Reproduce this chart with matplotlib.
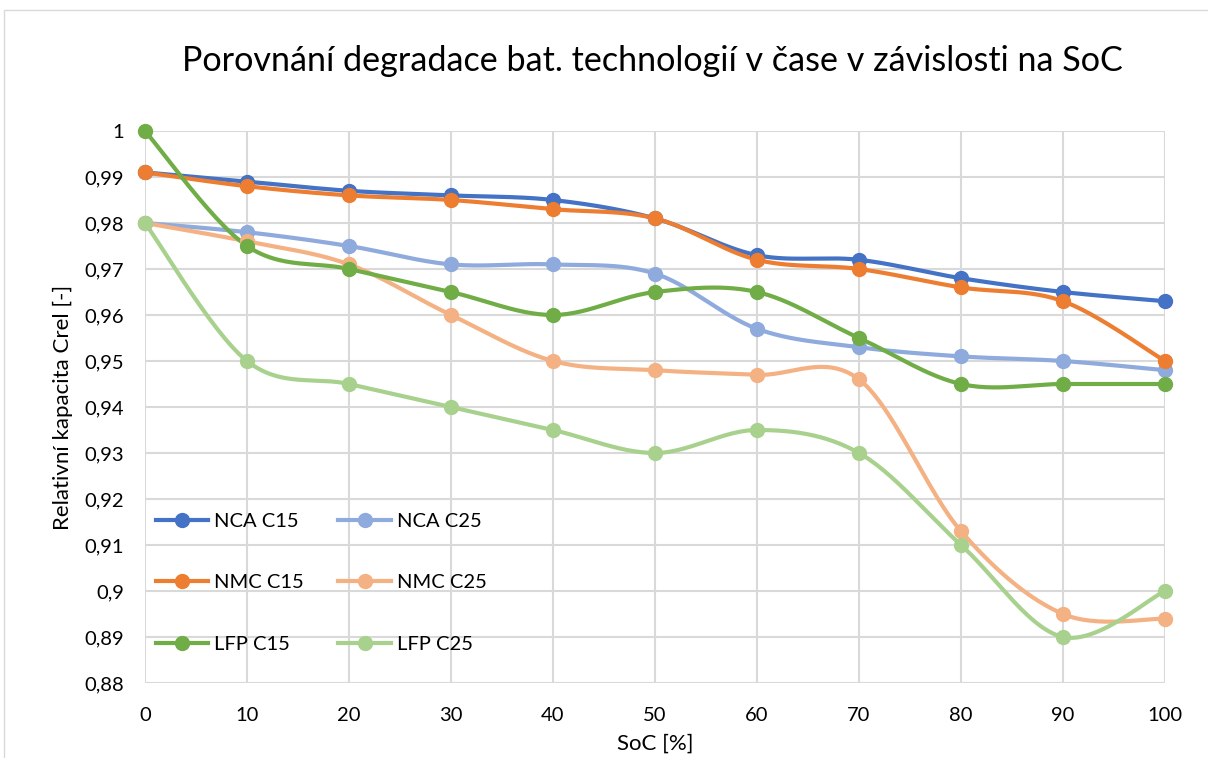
import matplotlib.pyplot as plt
import numpy as np
from matplotlib.patches import Rectangle

plt.rcParams['font.family'] = ['Lato', 'DejaVu Sans']

soc = [0, 10, 20, 30, 40, 50, 60, 70, 80, 90, 100]
nca_c15 = [0.991, 0.989, 0.987, 0.986, 0.985, 0.981, 0.973, 0.972, 0.968, 0.965, 0.963]
nca_c25 = [0.980, 0.978, 0.975, 0.971, 0.971, 0.969, 0.957, 0.953, 0.951, 0.950, 0.948]
nmc_c15 = [0.991, 0.988, 0.986, 0.985, 0.983, 0.981, 0.972, 0.970, 0.966, 0.963, 0.950]
nmc_c25 = [0.980, 0.976, 0.971, 0.960, 0.950, 0.948, 0.947, 0.946, 0.913, 0.895, 0.894]
lfp_c15 = [1.000, 0.975, 0.970, 0.965, 0.960, 0.965, 0.965, 0.955, 0.945, 0.945, 0.945]
lfp_c25 = [0.980, 0.950, 0.945, 0.940, 0.935, 0.930, 0.935, 0.930, 0.910, 0.890, 0.900]

series = [
    ("NCA C15", nca_c15, "#4472C4"),
    ("NCA C25", nca_c25, "#8FAADC"),
    ("NMC C15", nmc_c15, "#ED7D31"),
    ("NMC C25", nmc_c25, "#F4B183"),
    ("LFP C15", lfp_c15, "#70AD47"),
    ("LFP C25", lfp_c25, "#A9D18E"),
]


def smooth(x, y, n=30):
    # Excel-like smoothed line: cubic bezier segments with Catmull-Rom handles
    x = np.asarray(x, float)
    y = np.asarray(y, float)
    px = np.concatenate([[x[0]], x, [x[-1]]])
    py = np.concatenate([[y[0]], y, [y[-1]]])
    t = np.linspace(0, 1, n)
    xs, ys = [], []
    for i in range(len(x) - 1):
        p0 = np.array([px[i], py[i]])
        p1 = np.array([px[i + 1], py[i + 1]])
        p2 = np.array([px[i + 2], py[i + 2]])
        p3 = np.array([px[i + 3], py[i + 3]])
        c1 = p1 + (p2 - p0) / 6
        c2 = p2 - (p3 - p1) / 6
        b = ((1 - t) ** 3)[:, None] * p1 + (3 * (1 - t) ** 2 * t)[:, None] * c1 \
            + (3 * (1 - t) * t ** 2)[:, None] * c2 + (t ** 3)[:, None] * p2
        xs.append(b[:, 0])
        ys.append(b[:, 1])
    return np.concatenate(xs), np.concatenate(ys)


fig = plt.figure(figsize=(12.08, 7.58), dpi=100)
ax = fig.add_axes([145 / 1208, 1 - 683 / 758, 1020 / 1208, 552 / 758])

fig.patches.append(Rectangle((4 / 1208, -0.1), 1.2, (758 - 10) / 758 + 0.1,
                             transform=fig.transFigure, fill=False,
                             edgecolor="#d9d9d9", linewidth=1))

handles = {}
for name, vals, col in series:
    sx, sy = smooth(soc, vals)
    ax.plot(sx, sy, color=col, lw=3, solid_capstyle="round", zorder=3, clip_on=False)
    ax.plot(soc, vals, "o", color=col, ms=10, zorder=4, clip_on=False)
    h, = ax.plot([], [], "-o", color=col, lw=3, ms=10)
    handles[name] = h

ax.set_xlim(0, 100)
ax.set_ylim(0.88, 1.0)
ax.set_xticks(soc)
yt = np.round(np.arange(0.88, 1.0001, 0.01), 2)
ax.set_yticks(yt)
ax.set_yticklabels([("%g" % v).replace(".", ",") for v in yt])
ax.tick_params(length=0, labelsize=14.5)
ax.tick_params(axis="y", pad=15)
ax.tick_params(axis="x", pad=17)
ax.grid(True, color="#d9d9d9", lw=1.5)
ax.set_axisbelow(True)
for s in ax.spines.values():
    s.set_visible(False)

ax.set_xlabel("SoC [%]", fontsize=16, labelpad=7)
ax.set_ylabel("Relativní kapacita Crel [-]", fontsize=16, labelpad=8)
fig.text(652 / 1208, 1 - 61 / 758, "Porovnání degradace bat. technologií v čase v závislosti na SoC",
         fontsize=24.6, ha="center", va="center")

order = ["NCA C15", "NMC C15", "LFP C15", "NCA C25", "NMC C25", "LFP C25"]
fig.legend([handles[k] for k in order], order, ncol=2, frameon=False,
           loc="upper left", bbox_to_anchor=(156 / 1208, 1 - 513 / 758),
           fontsize=14.5, labelspacing=2.2, handlelength=2.6, handletextpad=0.3,
           columnspacing=1.7, borderpad=0, borderaxespad=0)

fig.savefig("out.png", dpi=100)
